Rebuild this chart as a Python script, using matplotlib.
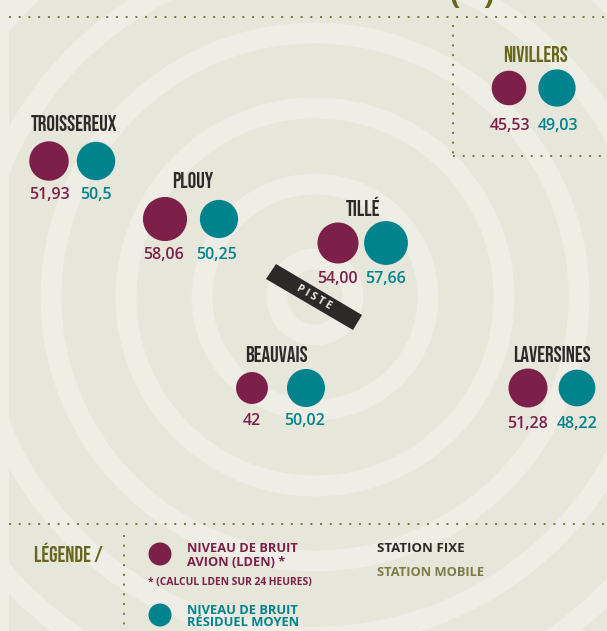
import numpy as np
import matplotlib
matplotlib.use("Agg")
import matplotlib.pyplot as plt
from matplotlib.patches import Circle, Polygon, Rectangle

# --- data ---
stations = ["TROISSEREUX", "PLOUY", "TILLÉ", "BEAUVAIS", "LAVERSINES", "NIVILLERS"]
avion = [51.93, 58.06, 54.00, 42, 51.28, 45.53]
residuel = [50.5, 50.25, 57.66, 50.02, 48.22, 49.03]
avion_txt = ["51,93", "58,06", "54,00", "42", "51,28", "45,53"]
residuel_txt = ["50,5", "50,25", "57,66", "50,02", "48,22", "49,03"]

# positions in picture pixels
name_pos = [(74, 123), (193, 180), (363, 206), (276, 354), (552, 354), (536, 54)]
avion_x = [49, 165, 338, 252, 528, 509]
resid_x = [96, 219, 386, 306, 577, 557]
circle_y = [161, 219, 243, 388, 388, 88]
label_y = [195, 255, 279, 421, 424, 126]
avion_lx = [49, 163, 337, 252, 528, 510]
resid_lx = [96, 217, 386, 305, 577, 558]

BG = "#e6e6da"
RING = "#eeeee7"
PURPLE = "#7d2049"
TEAL = "#00838d"
DARK = "#2b2a29"
OLIVE = "#67661c"
OLIVE2 = "#7d7c45"
DOT = "#77762f"

NARROW = ["Bebas Neue", "Barlow Condensed", "DejaVu Sans"]
SANS = ["Open Sans", "DejaVu Sans"]

fig = plt.figure(figsize=(6.07, 6.31), dpi=100)
ax = fig.add_axes([0, 0, 1, 1])
ax.set_xlim(0, 607)
ax.set_ylim(631, 0)
ax.axis("off")
ax.add_patch(Rectangle((0, 0), 607, 631, fc=RING, ec="none"))
ax.add_patch(Rectangle((9, 0), 598, 631, fc=BG, ec="none"))

# concentric rings
clip = Rectangle((9, 0), 598, 631, transform=ax.transData)
for r in [38, 113, 189, 264, 340, 416, 492, 568]:
    c = Circle((315, 297), r, fc="none", ec=RING, lw=15)
    ax.add_patch(c)
    c.set_clip_path(clip)

# bottom of the cut off title
ax.text(472, -5, "(   )", color=OLIVE, fontsize=22, family=SANS, weight="bold",
        ha="center", va="center")

# dotted frames
def dotted(xs, ys):
    ax.plot(xs, ys, color=DOT, lw=1.4, ls=(0, (1, 4)))

dotted([9, 607], [17, 17])
dotted([453, 453], [25, 155])
dotted([453, 607], [156, 156])
dotted([9, 607], [524, 524])
dotted([124, 124], [535, 631])

# runway
ax.add_patch(Polygon([(276, 264), (362, 315), (353, 330), (266, 279)], fc=DARK, ec="none"))
ax.text(314, 297, "P I S T E", color=RING, fontsize=7.5, family=SANS, weight="bold",
        rotation=-30, rotation_mode="anchor", ha="center", va="center")

# stations
k = 0.38
for i, name in enumerate(stations):
    col = OLIVE if name == "NIVILLERS" else DARK
    ax.text(name_pos[i][0], name_pos[i][1], name, color=col, fontsize=15.5, family=NARROW,
            ha="center", va="center")
    ax.add_patch(Circle((avion_x[i], circle_y[i]), avion[i] * k, fc=PURPLE, ec="none"))
    ax.add_patch(Circle((resid_x[i], circle_y[i]), residuel[i] * k, fc=TEAL, ec="none"))
    ax.text(avion_lx[i], label_y[i], avion_txt[i], color=PURPLE, fontsize=11.5, family=SANS,
            weight="semibold", ha="center", va="center")
    ax.text(resid_lx[i], label_y[i], residuel_txt[i], color=TEAL, fontsize=11.5, family=SANS,
            weight="semibold", ha="center", va="center")

# legend
ax.text(34, 552, "LÉGENDE /", color=OLIVE, fontsize=15.5, family=NARROW, va="center")
ax.add_patch(Circle((160, 554), 11.5, fc=PURPLE, ec="none"))
ax.add_patch(Circle((160, 615), 11.5, fc=TEAL, ec="none"))
ax.text(187, 549, "NIVEAU DE BRUIT", color=PURPLE, fontsize=9.3, family=SANS, weight="bold", va="center")
ax.text(187, 562, "AVION (LDEN) *", color=PURPLE, fontsize=9.3, family=SANS, weight="bold", va="center")
ax.text(148, 583, "* (CALCUL LDEN SUR 24 HEURES)", color=PURPLE, fontsize=7.4, family=SANS, weight="bold", va="center")
ax.text(187, 610, "NIVEAU DE BRUIT", color=TEAL, fontsize=9.3, family=SANS, weight="bold", va="center")
ax.text(187, 623, "RÉSIDUEL MOYEN", color=TEAL, fontsize=9.3, family=SANS, weight="bold", va="center")
ax.text(377, 549, "STATION FIXE", color=DARK, fontsize=9.5, family=SANS, weight="bold", va="center")
ax.text(377, 573, "STATION MOBILE", color=OLIVE2, fontsize=9.3, family=SANS, weight="bold", va="center")

fig.savefig("out.png", dpi=100)
